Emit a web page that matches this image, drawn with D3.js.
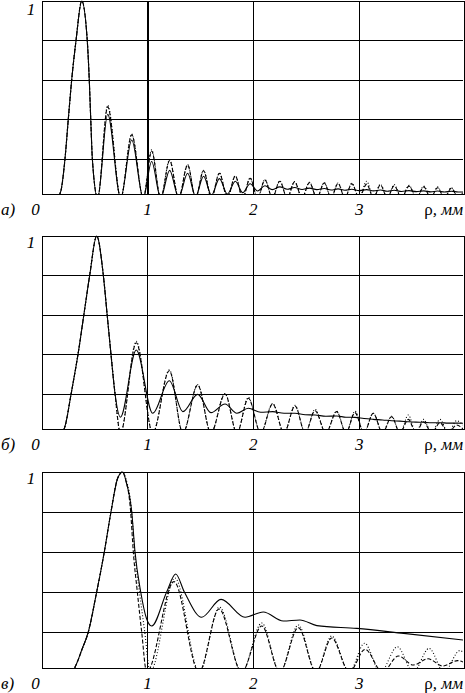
<!DOCTYPE html>
<html>
<head>
<meta charset="utf-8">
<script src="https://cdn.jsdelivr.net/npm/d3@7"></script>
<style>
  body { margin: 0; background: #fff; }
</style>
</head>
<body>
<div id="container"></div>
<script>
// ---- data: rho in mm, normalised intensity ----
let xTickValues = [0, 1, 2, 3];
let yGridValues = [0.2, 0.4, 0.6, 0.8];
let panelLabels = ["а)", "б)", "в)"];

// panel a
let rhoA = [0, 0.14, 0.18, 0.222, 0.253, 0.285, 0.326, 0.38, 0.432, 0.451, 0.465, 0.48, 0.53,
  0.625, 0.748, 0.852, 0.961, 1.04, 1.125, 1.21, 1.295, 1.38, 1.455, 1.53, 1.605, 1.68, 1.755,
  1.83, 1.90, 1.97, 2.04, 2.11, 2.18, 2.25, 2.32, 2.39, 2.46, 2.53, 2.60, 2.67, 2.735, 2.80,
  2.865, 2.93, 3.0, 3.07, 3.135, 3.20, 3.265, 3.33, 3.40, 3.47, 3.54, 3.61, 3.675, 3.74, 3.805,
  3.87, 3.935, 3.98];
let solidA = [0, 0, 0.03, 0.2, 0.4, 0.6, 0.8, 1, 0.8, 0.6, 0.4, 0.2, 0,
  0.425, 0, 0.294, 0, 0.185, 0, 0.14, 0.003, 0.125, 0.008, 0.11, 0.014, 0.098, 0.02,
  0.085, 0.027, 0.072, 0.035, 0.062, 0.042, 0.056, 0.044, 0.053, 0.043, 0.05, 0.042, 0.048, 0.04,
  0.046, 0.039, 0.044, 0.037, 0.042, 0.036, 0.04, 0.034, 0.039, 0.033, 0.037, 0.032, 0.036, 0.031,
  0.035, 0.03, 0.034, 0.03, 0.03];
let dashA = [0, 0, 0.03, 0.2, 0.4, 0.6, 0.8, 1, 0.8, 0.6, 0.4, 0.2, 0,
  0.463, 0, 0.32, 0, 0.238, 0, 0.19, 0, 0.167, 0, 0.138, 0, 0.125, 0,
  0.111, 0, 0.10, 0, 0.091, 0, 0.085, 0, 0.082, 0, 0.078, 0, 0.076, 0, 0.074,
  0, 0.072, 0, 0.07, 0, 0.066, 0, 0.062, 0, 0.06, 0, 0.056, 0, 0.052, 0,
  0.05, 0, 0.03];
let dotA = [0, 0, 0.03, 0.2, 0.4, 0.6, 0.8, 1, 0.8, 0.6, 0.4, 0.2, 0,
  0.47, 0, 0.325, 0, 0.245, 0, 0.195, 0, 0.17, 0, 0.14, 0, 0.127, 0,
  0.113, 0, 0.102, 0, 0.093, 0, 0.087, 0, 0.083, 0, 0.08, 0, 0.078, 0, 0.076,
  0, 0.075, 0, 0.085, 0, 0.07, 0, 0.068, 0, 0.064, 0, 0.06, 0, 0.056, 0,
  0.052, 0, 0.03];

// panel b
let rhoB = [0, 0.184, 0.22, 0.28, 0.345, 0.40, 0.455, 0.521, 0.584, 0.62, 0.656, 0.694, 0.745,
  0.895, 1.05, 1.207, 1.335, 1.475, 1.6, 1.733, 1.845, 1.953, 2.07, 2.183, 2.29, 2.394, 2.49,
  2.583, 2.685, 2.787, 2.875, 2.96, 3.045, 3.133, 3.22, 3.306, 3.385, 3.464, 3.535, 3.606, 3.685,
  3.763, 3.84, 3.92, 3.98];
let solidB = [0, 0, 0.03, 0.2, 0.4, 0.6, 0.8, 1, 0.8, 0.6, 0.4, 0.2, 0.08,
  0.421, 0.1, 0.265, 0.108, 0.196, 0.103, 0.147, 0.1, 0.125, 0.105, 0.108, 0.1, 0.1, 0.092,
  0.091, 0.085, 0.086, 0.08, 0.079, 0.073, 0.069, 0.066, 0.062, 0.06, 0.057, 0.055, 0.054, 0.052,
  0.052, 0.05, 0.05, 0.049];
let dashB = [0, 0, 0.03, 0.2, 0.4, 0.6, 0.8, 1, 0.8, 0.6, 0.4, 0.2, 0,
  0.458, 0, 0.316, 0, 0.243, 0, 0.198, 0, 0.176, 0, 0.147, 0, 0.137, 0,
  0.113, 0, 0.108, 0, 0.103, 0, 0.1, 0, 0.082, 0, 0.069, 0, 0.057, 0,
  0.052, 0, 0.04, 0.02];
let dotB = [0, 0, 0.03, 0.2, 0.4, 0.6, 0.8, 1, 0.8, 0.6, 0.4, 0.2, 0,
  0.465, 0, 0.32, 0, 0.246, 0, 0.2, 0, 0.18, 0, 0.15, 0, 0.14, 0,
  0.12, 0, 0.11, 0, 0.11, 0, 0.1, 0, 0.085, 0, 0.091, 0, 0.069, 0,
  0.069, 0, 0.062, 0.04];

// panel c
let rhoCsolid = [0, 0.285, 0.33, 0.38, 0.442, 0.521, 0.593, 0.656, 0.72, 0.767, 0.80, 0.852, 0.883,
  0.937, 0.99, 1.04, 1.182, 1.267, 1.349, 1.513, 1.695, 1.922, 2.094, 2.283, 2.44, 2.6, 2.977,
  3.42, 3.98];
let solidC = [0, 0, 0.04, 0.11, 0.2, 0.4, 0.6, 0.8, 0.97, 1, 0.95, 0.8, 0.6,
  0.4, 0.27, 0.23, 0.4, 0.49, 0.4, 0.274, 0.363, 0.274, 0.3, 0.255, 0.26, 0.232, 0.218,
  0.193, 0.16];
let rhoCdash = [0, 0.285, 0.33, 0.38, 0.442, 0.521, 0.593, 0.656, 0.72, 0.767, 0.79, 0.842, 0.867,
  0.905, 0.946, 0.993, 1.251, 1.487, 1.676, 1.89, 2.08, 2.25, 2.425, 2.592, 2.74, 2.907, 3.055,
  3.22, 3.37, 3.51, 3.65, 3.79, 3.93, 3.98];
let dashC = [0, 0, 0.04, 0.11, 0.2, 0.4, 0.6, 0.8, 0.97, 1, 0.97, 0.8, 0.6,
  0.4, 0.2, 0, 0.452, 0, 0.315, 0, 0.23, 0, 0.222, 0, 0.17, 0, 0.113,
  0, 0.08, 0.035, 0.066, 0.03, 0.057, 0.05];
let rhoCdot = [0, 0.285, 0.33, 0.38, 0.442, 0.521, 0.593, 0.656, 0.72, 0.767, 0.80, 0.852, 0.88,
  0.925, 0.975, 1.025, 1.26, 1.49, 1.68, 1.89, 2.08, 2.25, 2.425, 2.592, 2.74, 2.907, 3.05,
  3.2, 3.36, 3.51, 3.66, 3.8, 3.95, 3.98];
let dotC = [0, 0, 0.04, 0.11, 0.2, 0.4, 0.6, 0.8, 0.97, 1, 0.96, 0.8, 0.6,
  0.4, 0.2, 0, 0.47, 0, 0.325, 0, 0.245, 0, 0.235, 0, 0.18, 0, 0.144,
  0, 0.126, 0, 0.118, 0, 0.107, 0.1];

// ---- drawing ----
let w = 465;
let h = 693;
let serif = "'Liberation Serif', 'Times New Roman', serif";

let viz = d3.select("#container")
  .append("svg")
    .attr("width", w)
    .attr("height", h)
    .style("background-color", "#ffffff")
;

let zip = (xs, ys) => xs.map((r, i) => [r, ys[i]]);

let panels = [
  { top: 1, bottom: 194, thickOne: true,
    solid: zip(rhoA, solidA), dash: zip(rhoA, dashA), dot: zip(rhoA, dotA) },
  { top: 236, bottom: 429, thickOne: false,
    solid: zip(rhoB, solidB), dash: zip(rhoB, dashB), dot: zip(rhoB, dotB) },
  { top: 472, bottom: 668, thickOne: false,
    solid: zip(rhoCsolid, solidC), dash: zip(rhoCdash, dashC), dot: zip(rhoCdot, dotC) }
];

let x = d3.scaleLinear().domain([0, 3.98]).range([41.5, 463]);

panels.forEach(function(p, i){

    let y = d3.scaleLinear().domain([0.02, 1]).range([p.bottom, p.top]);
    let g = viz.append("g").attr("class", "panel");

    // grid
    g.selectAll(".hgrid").data(yGridValues).enter()
      .append("line")
        .attr("x1", x.range()[0])
        .attr("x2", x.range()[1])
        .attr("y1", d => Math.round(y(d)) + 0.5)
        .attr("y2", d => Math.round(y(d)) + 0.5)
        .attr("stroke", "#000")
        .attr("stroke-width", 1)
        .attr("shape-rendering", "crispEdges")
    ;
    g.selectAll(".vgrid").data(xTickValues.slice(1)).enter()
      .append("line")
        .attr("x1", d => Math.round(x(d)) + 0.5)
        .attr("x2", d => Math.round(x(d)) + 0.5)
        .attr("y1", p.top)
        .attr("y2", p.bottom)
        .attr("stroke", "#000")
        .attr("stroke-width", (d) => (p.thickOne && d == 1) ? 2 : 1)
        .attr("shape-rendering", "crispEdges")
    ;
    g.append("rect")
        .attr("x", Math.round(x.range()[0]) + 0.5)
        .attr("y", p.top + 0.5)
        .attr("width", Math.round(x.range()[1] - x.range()[0]))
        .attr("height", p.bottom - p.top)
        .attr("fill", "none")
        .attr("stroke", "#000")
        .attr("stroke-width", 1)
        .attr("shape-rendering", "crispEdges")
    ;

    // curves
    let clipId = "clip" + i;
    g.append("clipPath").attr("id", clipId)
      .append("rect")
        .attr("x", x.range()[0])
        .attr("y", p.top - 1)
        .attr("width", x.range()[1] - x.range()[0])
        .attr("height", p.bottom - p.top + 1)
    ;

    let line = d3.line()
        .x(d => x(d[0]))
        .y(d => y(d[1]))
        .curve(d3.curveMonotoneX);

    let styles = [
      { key: "dot", dash: "1,2" },
      { key: "dash", dash: "4,2" },
      { key: "solid", dash: null }
    ];
    styles.forEach(function(s){
        g.append("path")
            .attr("clip-path", "url(#" + clipId + ")")
            .attr("d", line(p[s.key]))
            .attr("fill", "none")
            .attr("stroke", "#000")
            .attr("stroke-width", 1.1)
            .attr("stroke-dasharray", s.dash)
        ;
    });

    // labels
    let base = p.bottom + 21;
    let txt = g.append("g")
        .attr("font-family", serif)
        .attr("font-style", "italic")
        .attr("font-size", 17)
        .attr("fill", "#000");

    txt.selectAll(".tick").data(xTickValues).enter()
      .append("text")
        .attr("x", d => d == 0 ? x(d) - 6 : x(d))
        .attr("y", base)
        .attr("text-anchor", "middle")
        .text(d => d)
    ;
    txt.append("text")
        .attr("x", 1)
        .attr("y", base)
        .text(panelLabels[i])
    ;
    let unit = txt.append("text")
        .attr("x", 463)
        .attr("y", base)
        .attr("text-anchor", "end")
    ;
    unit.append("tspan").attr("font-style", "normal").text("ρ");
    unit.append("tspan").text(", мм");

    txt.append("text")
        .attr("x", 31)
        .attr("y", Math.max(p.top + 12, 15))
        .attr("text-anchor", "middle")
        .text("1")
    ;
});
</script>
</body>
</html>
